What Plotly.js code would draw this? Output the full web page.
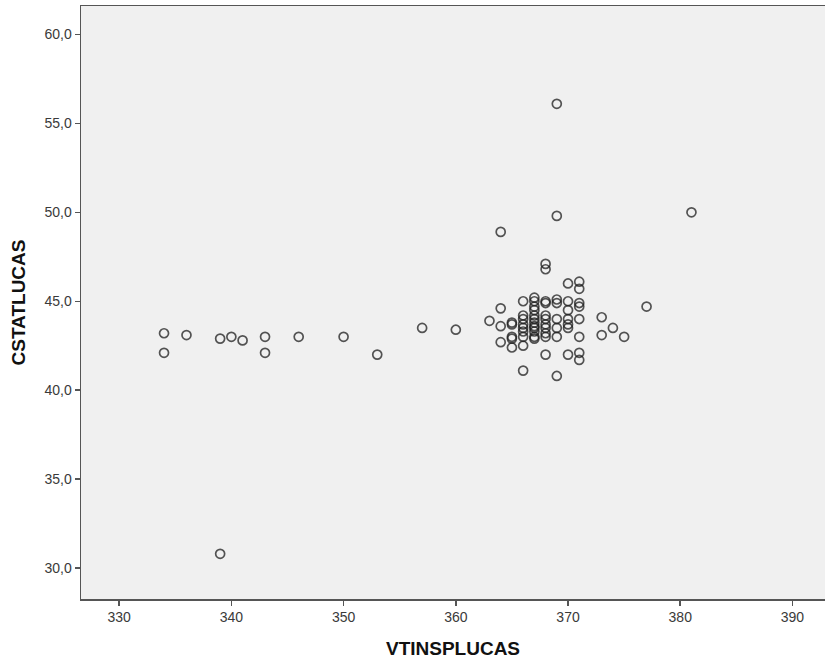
<!DOCTYPE html>
<html>
<head>
<meta charset="utf-8">
<script src="https://cdn.plot.ly/plotly-3.0.1.min.js"></script>
<style>html,body{margin:0;padding:0;background:#fff;}#chart{width:825px;height:664px;}</style>
</head>
<body>
<div id="chart"></div>
<script>
// VTINSPLUCAS (x) and CSTATLUCAS (y) values
const vtinsplucas = [
  334, 334, 336, 339, 340, 341, 343, 343, 346, 350, 353, 357, 360, 339,
  381, 369, 369, 364, 368, 368,
  377, 373, 374, 375, 373,
  363,
  364, 364, 364,
  365, 365, 365, 365, 365,
  366, 366, 366, 366, 366, 366, 366, 366, 366,
  367, 367, 367, 367, 367, 367, 367, 367, 367, 367, 367, 367,
  368, 368, 368, 368, 368, 368, 368, 368, 368,
  369, 369, 369, 369, 369, 369,
  370, 370, 370, 370, 370, 370, 370,
  371, 371, 371, 371, 371, 371, 371, 371
];
const cstatlucas = [
  43.2, 42.1, 43.1, 42.9, 43.0, 42.8, 43.0, 42.1, 43.0, 43.0, 42.0, 43.5, 43.4, 30.8,
  50.0, 56.1, 49.8, 48.9, 47.1, 46.8,
  44.7, 44.1, 43.5, 43.0, 43.1,
  43.9,
  44.6, 43.6, 42.7,
  43.7, 43.8, 43.0, 42.9, 42.4,
  45.0, 44.2, 44.0, 43.7, 43.5, 43.3, 43.0, 42.5, 41.1,
  45.2, 45.0, 44.7, 44.5, 44.2, 44.0, 43.8, 43.6, 43.5, 43.3, 43.0, 42.9,
  45.0, 44.9, 44.2, 44.0, 43.7, 43.5, 43.2, 43.0, 42.0,
  45.1, 44.9, 44.0, 43.5, 43.0, 40.8,
  46.0, 45.0, 44.5, 44.0, 43.7, 43.5, 42.0,
  46.1, 45.7, 44.9, 44.7, 44.0, 43.0, 42.1, 41.7
];
const xTicks = [330, 340, 350, 360, 370, 380, 390];
const yTicks = [30, 35, 40, 45, 50, 55, 60];
const xLabel = 'VTINSPLUCAS';
const yLabel = 'CSTATLUCAS';

const trace = {
  type: 'scatter',
  mode: 'markers',
  x: vtinsplucas,
  y: cstatlucas,
  marker: {
    symbol: 'circle',
    size: 9,
    color: 'rgba(0,0,0,0)',
    line: {color: 'rgba(30,30,30,0.75)', width: 1.7}
  },
  hoverinfo: 'x+y'
};

const axisCommon = {
  showgrid: false,
  zeroline: false,
  showline: true,
  linecolor: '#555555',
  linewidth: 1.5,
  ticks: 'outside',
  ticklen: 5,
  tickwidth: 1.5,
  tickcolor: '#555555',
  tickfont: {family: 'Liberation Sans, Arial, sans-serif', size: 14, color: '#3a3a3a'}
};

const titleFont = {family: 'Liberation Sans, Arial, sans-serif', size: 19, color: '#111111', weight: 'bold'};

const layout = {
  width: 825,
  height: 664,
  margin: {l: 81, r: 0, t: 6, b: 65},
  paper_bgcolor: '#ffffff',
  plot_bgcolor: '#f0f0f0',
  separators: ',.',
  showlegend: false,
  xaxis: Object.assign({}, axisCommon, {
    range: [326.6, 392.9],
    tickvals: xTicks,
    mirror: true,
    title: {text: xLabel, standoff: 17, font: titleFont}
  }),
  yaxis: Object.assign({}, axisCommon, {
    range: [28.26, 61.6],
    tickvals: yTicks,
    tickformat: '.1f',
    title: {text: yLabel, standoff: 14, font: titleFont}
  })
};

Plotly.newPlot('chart', [trace], layout, {displayModeBar: false, staticPlot: true});
</script>
</body>
</html>
